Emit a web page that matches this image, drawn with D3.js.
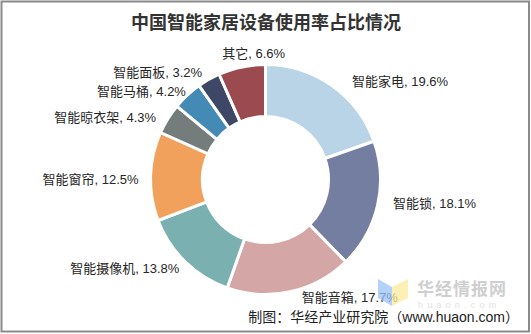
<!DOCTYPE html>
<html>
<head>
<meta charset="utf-8">
<script src="https://cdn.jsdelivr.net/npm/d3@7/dist/d3.min.js"></script>
<style>
  html, body { margin: 0; padding: 0; background: #fff; }
  svg { display: block; }
</style>
</head>
<body>
<svg id="chart" width="531" height="334"></svg>
<script>
// Smart-home device usage share (%)
const categories = ["智能家电", "智能锁", "智能音箱", "智能摄像机", "智能窗帘", "智能晾衣架", "智能马桶", "智能面板", "其它"];
const values = [19.6, 18.1, 17.7, 13.8, 12.5, 4.3, 4.2, 3.2, 6.6];
const colors = ["#b9d4e6", "#737ea1", "#d4a6a6", "#7bb0b1", "#f1a15c", "#747d7b", "#438ab5", "#3f4766", "#9b4a4f"];

// label offsets from the mid-angle anchor, to keep labels clear of each other
const labelNudge = [[48, 24], [23, -10], [52, -29], [-36, -19], [-25, 4], [-33, 17], [-22, 22], [-34, 23], [19, 21]];

const W = 531, H = 334;
const cx = 265.5, cy = 179.5;
const outerR = 115, innerR = 63;
const labelR = 150;

const svg = d3.select("#chart");
const cjk = "'Liberation Sans', 'Noto Sans CJK SC', sans-serif";

svg.append("rect").attr("width", W).attr("height", H).attr("fill", "#fff");
svg.append("rect")
  .attr("x", 1.5).attr("y", 1.5).attr("width", 527.5).attr("height", 330)
  .attr("fill", "none").attr("stroke", "#8a8a8a").attr("stroke-width", 2);

svg.append("text")
  .attr("x", 266).attr("y", 23).attr("dy", "0.36em")
  .attr("text-anchor", "middle")
  .attr("font-family", "'Noto Sans CJK SC', sans-serif")
  .attr("font-weight", 700).attr("font-size", 18)
  .attr("fill", "#333")
  .text("中国智能家居设备使用率占比情况");

const data = categories.map((c, i) => ({ name: c, value: values[i], color: colors[i], nudge: labelNudge[i] }));

const pie = d3.pie().value(d => d.value).sort(null);
const arcs = pie(data);
const arc = d3.arc().innerRadius(innerR).outerRadius(outerR);
const labelArc = d3.arc().innerRadius(labelR).outerRadius(labelR);

const g = svg.append("g").attr("transform", `translate(${cx},${cy})`);

g.selectAll("path.slice")
  .data(arcs)
  .join("path")
  .attr("class", "slice")
  .attr("d", arc)
  .attr("fill", d => d.data.color)
  .attr("stroke", "#fff")
  .attr("stroke-width", 3)
  .attr("stroke-linejoin", "miter");

g.selectAll("text.lbl")
  .data(arcs)
  .join("text")
  .attr("class", "lbl")
  .attr("x", d => labelArc.centroid(d)[0] + d.data.nudge[0])
  .attr("y", d => labelArc.centroid(d)[1] + d.data.nudge[1])
  .attr("dy", "0.36em")
  .attr("text-anchor", "middle")
  .attr("font-family", cjk)
  .attr("font-size", 13)
  .attr("fill", "#262626")
  .text(d => `${d.data.name}, ${d.data.value.toFixed(1)}%`);

// watermark logo
const wm = svg.append("g").attr("opacity", 0.75);
wm.append("path").attr("d", "M378,279 L392,287 L392,306 L378,298 Z").attr("fill", "#9cc2f7");
wm.append("path").attr("d", "M408,279 L392,287 L392,306 L408,298 Z").attr("fill", "#fbeb9c");
svg.append("text")
  .attr("x", 417).attr("y", 289).attr("dy", "0.36em")
  .attr("font-family", "'Noto Sans CJK SC', sans-serif")
  .attr("font-weight", 700).attr("font-size", 17).attr("letter-spacing", 1)
  .attr("fill", "#cfcfcf")
  .text("华经情报网");
svg.append("text")
  .attr("x", 418).attr("y", 305).attr("dy", "0.35em")
  .attr("font-family", "'Liberation Sans', sans-serif")
  .attr("font-size", 9).attr("letter-spacing", 4.2)
  .attr("fill", "#e2e2e2")
  .text("huaon.com");

svg.append("text")
  .attr("x", 519).attr("y", 317).attr("dy", "0.36em")
  .attr("text-anchor", "end")
  .attr("font-family", cjk)
  .attr("font-size", 14)
  .attr("fill", "#222")
  .text("制图：华经产业研究院（www.huaon.com）");
</script>
</body>
</html>
